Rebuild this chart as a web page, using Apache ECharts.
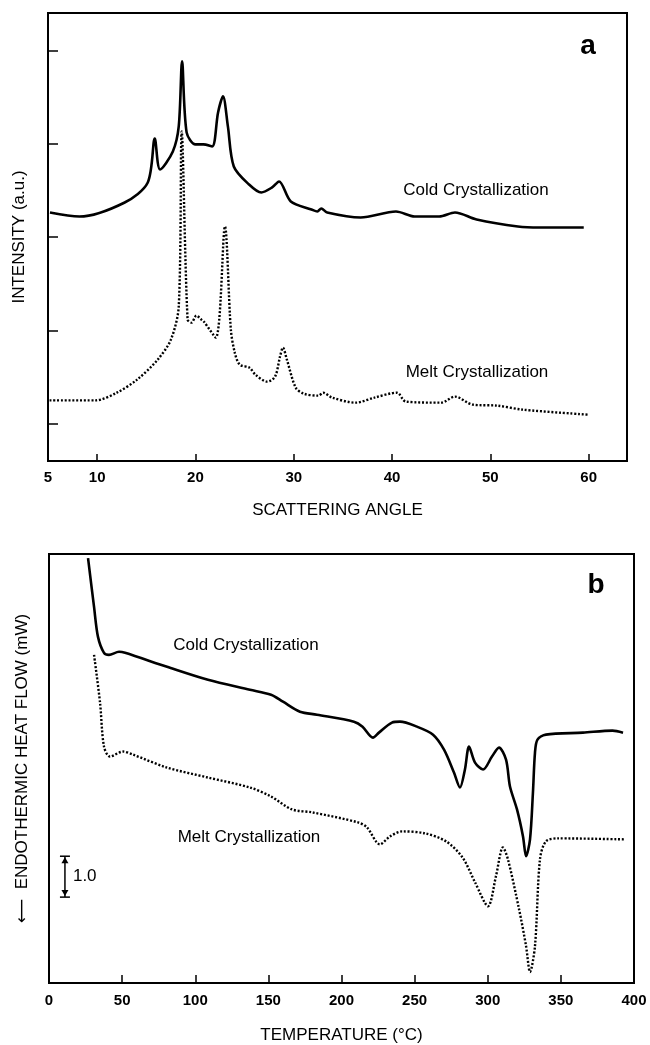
<!DOCTYPE html>
<html><head><meta charset="utf-8">
<script src="https://cdn.jsdelivr.net/npm/echarts@6/dist/echarts.min.js"></script>
<style>html,body{margin:0;padding:0;background:#fff}#c{width:650px;height:1045px}</style>
</head><body><div id="c"></div>
<script>
// ---- Panel a: X-ray scattering ----
const xrdColdAngle = [5.2, 8.2, 12.8, 15.15, 15.86, 16.4, 17.7, 18.3, 18.64, 19.1, 20.0, 20.8, 21.7, 22.3, 22.8, 23.3, 23.9, 25.45, 26.7, 27.8, 28.5, 29.7, 31.8, 32.4, 32.8, 33.4, 36.8, 40.4, 42.3, 44.8, 46.4, 48.6, 52.8, 55.0, 59.5];
const xrdColdIntensity = [2.263, 2.22, 2.37, 2.584, 3.056, 2.724, 2.917, 3.185, 3.882, 3.121, 2.992, 2.992, 2.97, 3.335, 3.507, 3.185, 2.756, 2.563, 2.477, 2.531, 2.595, 2.381, 2.295, 2.273, 2.306, 2.263, 2.209, 2.273, 2.22, 2.22, 2.263, 2.188, 2.113, 2.102, 2.102];
const xrdMeltAngle = [5.16, 9.85, 12.0, 14.07, 16.16, 17.5, 18.3, 18.6, 19.2, 19.6, 20.1, 20.6, 20.85, 22.07, 23.0, 23.6, 24.0, 24.5, 25.5, 26.1, 27.3, 28.1, 28.6, 28.9, 29.3, 30.2, 31.0, 32.5, 33.0, 33.9, 36.3, 38.2, 40.5, 41.4, 45.0, 46.4, 48.2, 50.7, 53.3, 59.9];
const xrdMeltIntensity = [0.25, 0.25, 0.332, 0.472, 0.686, 0.9, 1.255, 3.131, 1.115, 1.083, 1.158, 1.115, 1.094, 0.922, 2.113, 1.008, 0.761, 0.633, 0.6, 0.525, 0.45, 0.504, 0.718, 0.815, 0.686, 0.386, 0.322, 0.3, 0.332, 0.279, 0.225, 0.279, 0.332, 0.236, 0.225, 0.29, 0.204, 0.193, 0.15, 0.097];
const xrdTickLabels = [5, 10, 20, 30, 40, 50, 60];
const xrdTickMarks = [10, 20, 30, 40, 50, 60];
const xrdYTicks = [0, 1, 2, 3, 4];

// ---- Panel b: DSC ----
const dscColdTemp = [26.7, 30.8, 33.5, 37.6, 41.0, 47.9, 52.0, 80.7, 108.7, 137.4, 151.8, 160.0, 171.6, 183.2, 208.5, 214.4, 221.5, 225.6, 234.5, 240, 251.6, 262.6, 270.1, 276.9, 281.0, 284.4, 287.2, 291.3, 296.8, 302.9, 307.7, 312.5, 315.2, 320, 324.1, 326.2, 328.9, 330.9, 332.3, 334, 339.8, 365.1, 385.3, 392.5];
const dscColdHeat = [10.39, 9.195, 8.463, 8.073, 8.024, 8.098, 8.073, 7.732, 7.415, 7.171, 7.049, 6.878, 6.634, 6.561, 6.39, 6.268, 6.0, 6.122, 6.366, 6.39, 6.268, 6.073, 5.707, 5.146, 4.78, 5.22, 5.78, 5.39, 5.22, 5.537, 5.756, 5.463, 4.805, 4.244, 3.585, 3.098, 3.512, 4.659, 5.634, 5.951, 6.073, 6.122, 6.171, 6.122];
const dscMeltTemp = [30.8, 34.9, 37.6, 41.7, 50.6, 57.4, 80.7, 108.7, 137.4, 151.8, 166.2, 180.2, 211.3, 217.4, 226.3, 233.2, 241.4, 257.1, 271.5, 282.7, 291.3, 300.2, 305.6, 310.4, 313.8, 321.4, 326.2, 328.9, 332.3, 335.7, 339.8, 348, 393.8];
const dscMeltHeat = [8.024, 6.854, 5.78, 5.537, 5.659, 5.585, 5.268, 5.024, 4.78, 4.561, 4.244, 4.171, 3.927, 3.805, 3.39, 3.585, 3.707, 3.659, 3.463, 3.073, 2.463, 1.878, 2.61, 3.317, 3.024, 1.805, 0.902, 0.268, 0.902, 3.024, 3.463, 3.537, 3.512];
const dscTicks = [0, 50, 100, 150, 200, 250, 300, 350, 400];
const scaleBar = { temp: 10.9, from: 2.1, to: 3.1, label: '1.0' };

const FONT = "'Liberation Sans', Arial, Helvetica, sans-serif";
const zip = (xs, ys) => xs.map((x, i) => [x, ys[i]]);
const axisLine = { show: true, onZero: false, lineStyle: { color: '#000', width: 2 } };
const nameStyle = { color: '#000', fontFamily: FONT, fontSize: 17 };
const tickLabel = { color: '#000', fontFamily: FONT, fontSize: 15, fontWeight: 'bold' };

const chart = echarts.init(document.getElementById('c'));
chart.setOption({
  animation: false,
  backgroundColor: '#fff',
  grid: [
    { left: 48, right: 23, top: 13, height: 448, show: true, borderColor: '#000', borderWidth: 2, backgroundColor: 'transparent' },
    { left: 49, right: 16, top: 554, height: 430, show: true, borderColor: '#000', borderWidth: 2, backgroundColor: 'transparent' }
  ],
  xAxis: [
    { gridIndex: 0, type: 'value', min: 5, max: 63.9, axisLine,
      axisTick: { show: true, inside: true, length: 7, customValues: xrdTickMarks, lineStyle: { color: '#000', width: 1.5 } },
      axisLabel: Object.assign({ customValues: xrdTickLabels, margin: 9 }, tickLabel),
      splitLine: { show: false },
      name: 'SCATTERING ANGLE', nameLocation: 'middle', nameGap: 41, nameTextStyle: nameStyle },
    { gridIndex: 1, type: 'value', min: 0, max: 400, axisLine,
      axisTick: { show: true, inside: true, length: 8, customValues: dscTicks, lineStyle: { color: '#000', width: 1.5 } },
      axisLabel: Object.assign({ customValues: dscTicks, margin: 10 }, tickLabel),
      splitLine: { show: false },
      name: 'TEMPERATURE (°C)', nameLocation: 'middle', nameGap: 44, nameTextStyle: nameStyle }
  ],
  yAxis: [
    { gridIndex: 0, type: 'value', min: -0.4, max: 4.4, axisLine,
      axisTick: { show: true, inside: true, length: 10, customValues: xrdYTicks, lineStyle: { color: '#000', width: 1.5 } },
      axisLabel: { show: false }, splitLine: { show: false },
      name: 'INTENSITY (a.u.)', nameLocation: 'middle', nameGap: 20, nameTextStyle: nameStyle },
    { gridIndex: 1, type: 'value', min: 0, max: 10.49, axisLine,
      axisTick: { show: false }, axisLabel: { show: false }, splitLine: { show: false },
      name: '{arr|⟵}  ENDOTHERMIC HEAT FLOW (mW)', nameLocation: 'middle', nameGap: 18,
      nameTextStyle: Object.assign({ rich: { arr: { fontFamily: "'DejaVu Sans', sans-serif", fontSize: 17, color: '#000' } } }, nameStyle) }
  ],
  series: [
    { name: 'Cold Crystallization (XRD)', type: 'line', xAxisIndex: 0, yAxisIndex: 0, data: zip(xrdColdAngle, xrdColdIntensity),
      showSymbol: false, smooth: 0.3, lineStyle: { color: '#000', width: 2.6 } },
    { name: 'Melt Crystallization (XRD)', type: 'line', xAxisIndex: 0, yAxisIndex: 0, data: zip(xrdMeltAngle, xrdMeltIntensity),
      showSymbol: false, smooth: 0.3, lineStyle: { color: '#000', width: 2.4, type: [2, 1.8] } },
    { name: 'Cold Crystallization (DSC)', type: 'line', xAxisIndex: 1, yAxisIndex: 1, data: zip(dscColdTemp, dscColdHeat),
      showSymbol: false, smooth: 0.3, lineStyle: { color: '#000', width: 2.6 } },
    { name: 'Melt Crystallization (DSC)', type: 'line', xAxisIndex: 1, yAxisIndex: 1, data: zip(dscMeltTemp, dscMeltHeat),
      showSymbol: false, smooth: 0.3, lineStyle: { color: '#000', width: 2.4, type: [2, 1.8] } },
    { name: 'scale', type: 'custom', xAxisIndex: 1, yAxisIndex: 1, data: [[scaleBar.temp, scaleBar.from]],
      renderItem: function (params, api) {
        const top = api.coord([scaleBar.temp, scaleBar.to]);
        const bot = api.coord([scaleBar.temp, scaleBar.from]);
        const cap = 5, ah = 6, aw = 3.5;
        const st = { stroke: '#000', lineWidth: 1.5 };
        return { type: 'group', children: [
          { type: 'line', shape: { x1: top[0], y1: top[1], x2: bot[0], y2: bot[1] }, style: st },
          { type: 'line', shape: { x1: top[0] - cap, y1: top[1], x2: top[0] + cap, y2: top[1] }, style: st },
          { type: 'line', shape: { x1: bot[0] - cap, y1: bot[1], x2: bot[0] + cap, y2: bot[1] }, style: st },
          { type: 'polygon', shape: { points: [[top[0], top[1] + 1], [top[0] - aw, top[1] + 1 + ah], [top[0] + aw, top[1] + 1 + ah]] }, style: { fill: '#000' } },
          { type: 'polygon', shape: { points: [[bot[0], bot[1] - 1], [bot[0] - aw, bot[1] - 1 - ah], [bot[0] + aw, bot[1] - 1 - ah]] }, style: { fill: '#000' } },
          { type: 'text', x: top[0] + 8, y: (top[1] + bot[1]) / 2, style: { text: scaleBar.label, fill: '#000', font: '17px ' + FONT, align: 'left', verticalAlign: 'middle' } }
        ] };
      } }
  ],
  graphic: [
    { type: 'text', x: 588, y: 46, style: { text: 'a', fill: '#000', font: 'bold 28px ' + FONT, align: 'center', verticalAlign: 'middle' } },
    { type: 'text', x: 596, y: 585, style: { text: 'b', fill: '#000', font: 'bold 28px ' + FONT, align: 'center', verticalAlign: 'middle' } },
    { type: 'text', x: 476, y: 190, style: { text: 'Cold Crystallization', fill: '#000', font: '17px ' + FONT, align: 'center', verticalAlign: 'middle' } },
    { type: 'text', x: 477, y: 372, style: { text: 'Melt Crystallization', fill: '#000', font: '17px ' + FONT, align: 'center', verticalAlign: 'middle' } },
    { type: 'text', x: 246, y: 645, style: { text: 'Cold Crystallization', fill: '#000', font: '17px ' + FONT, align: 'center', verticalAlign: 'middle' } },
    { type: 'text', x: 249, y: 837, style: { text: 'Melt Crystallization', fill: '#000', font: '17px ' + FONT, align: 'center', verticalAlign: 'middle' } }
  ]
});
</script></body></html>
